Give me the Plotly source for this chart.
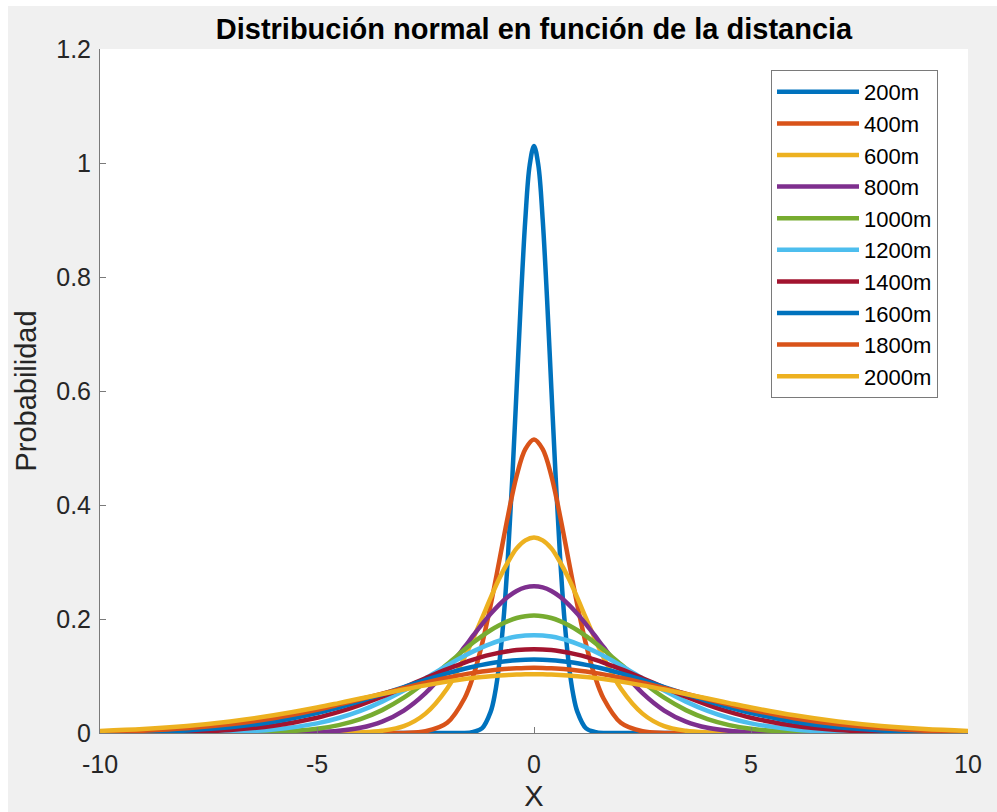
import plotly.graph_objects as go

# Sample positions (x >= 0); curves are symmetric about x = 0
x_fine = [0, 0.1, 0.2, 0.3, 0.4, 0.5, 0.6, 0.7, 0.8, 0.9, 1.0, 1.2, 1.4, 1.6,
          2.0, 3, 4, 5, 6, 7, 8, 9, 10]
x_half = [0, 0.2, 0.4, 0.6, 0.8, 1.0, 1.2, 1.4, 1.6, 2.0, 2.5, 3.0, 3.5,
          4.0, 4.5, 5.0, 6, 7, 8, 9, 10]

labels = ["200m", "400m", "600m", "800m", "1000m",
          "1200m", "1400m", "1600m", "1800m", "2000m"]

y_200 = [1.030, 0.996, 0.901, 0.763, 0.604, 0.447, 0.310, 0.201, 0.122, 0.069,
         0.037, 0.008, 0.002, 0.000, 0, 0, 0, 0, 0, 0, 0, 0, 0]
y_400 = [0.515, 0.498, 0.451, 0.381, 0.302, 0.224, 0.155, 0.100, 0.061, 0.018,
         0.003, 0.000, 0, 0, 0, 0, 0, 0, 0, 0, 0]
y_600 = [0.343, 0.338, 0.324, 0.300, 0.271, 0.237, 0.201, 0.166, 0.133, 0.078,
         0.034, 0.012, 0.004, 0.001, 0.000, 0, 0, 0, 0, 0, 0]
y_800 = [0.2575, 0.2554, 0.2491, 0.2389, 0.2253, 0.2090, 0.1907, 0.1711, 0.1509,
         0.1118, 0.0699, 0.0394, 0.0200, 0.0091, 0.0038, 0.0014, 0.0001, 0, 0, 0, 0]
y_1000 = [0.2060, 0.2049, 0.2017, 0.1963, 0.1891, 0.1803, 0.1700, 0.1586, 0.1463,
          0.1207, 0.0894, 0.0619, 0.0401, 0.0243, 0.0138, 0.0073, 0.0017, 0.0003,
          0, 0, 0]
y_1200 = [0.1717, 0.1711, 0.1692, 0.1661, 0.1618, 0.1565, 0.1502, 0.1432, 0.1354,
          0.1185, 0.0962, 0.0745, 0.0551, 0.0389, 0.0263, 0.0169, 0.0061, 0.0018,
          0.0005, 0.0001, 0]
y_1400 = [0.1471, 0.1467, 0.1455, 0.1435, 0.1408, 0.1374, 0.1334, 0.1287, 0.1236,
          0.1120, 0.0961, 0.0797, 0.0638, 0.0495, 0.0370, 0.0268, 0.0127, 0.0052,
          0.0019, 0.0006, 0.0002]
y_1600 = [0.1288, 0.1285, 0.1277, 0.1264, 0.1246, 0.1223, 0.1195, 0.1163, 0.1127,
          0.1045, 0.0930, 0.0805, 0.0680, 0.0559, 0.0448, 0.0350, 0.0197, 0.0100,
          0.0046, 0.0019, 0.0007]
y_1800 = [0.1144, 0.1142, 0.1136, 0.1127, 0.1114, 0.1098, 0.1078, 0.1055, 0.1029,
          0.0970, 0.0884, 0.0789, 0.0690, 0.0592, 0.0497, 0.0408, 0.0259, 0.0152,
          0.0082, 0.0041, 0.0019]
y_2000 = [0.1030, 0.1029, 0.1025, 0.1018, 0.1008, 0.0996, 0.0982, 0.0965, 0.0946,
          0.0901, 0.0836, 0.0763, 0.0684, 0.0604, 0.0524, 0.0447, 0.0310, 0.0201,
          0.0122, 0.0069, 0.0037]

series = [y_200, y_400, y_600, y_800, y_1000, y_1200, y_1400, y_1600, y_1800, y_2000]
x_grids = [x_fine] + [x_half] * 9
colors = ["#0072BD", "#D95319", "#EDB120", "#7E2F8E", "#77AC30",
          "#4DBEEE", "#A2142F", "#0072BD", "#D95319", "#EDB120"]

x_ticks = [-10, -5, 0, 5, 10]
x_ticktext = ["-10", "-5", "0", "5", "10"]
y_ticks = [0, 0.2, 0.4, 0.6, 0.8, 1, 1.2]
y_ticktext = ["0", "0.2", "0.4", "0.6", "0.8", "1", "1.2"]

FONT = "Liberation Sans, Arial, Helvetica, sans-serif"

fig = go.Figure()
for name, xg, ys, col in zip(labels, x_grids, series, colors):
    xs = [-v for v in reversed(xg[1:])] + xg
    yf = list(reversed(ys[1:])) + ys
    fig.add_trace(go.Scatter(x=xs, y=yf, mode="lines", name=name,
                             line=dict(color=col, width=4.5, shape="spline", smoothing=1)))

W, H = 997, 812
L, R, T, B = 100, 29, 49, 79
pw, ph = W - L - R, H - T - B

def px(p):
    return (p - L) / pw

def py(q):
    return (H - B - q) / ph

axis_col = "#7a7a7a"
fig.update_layout(
    width=W, height=H,
    margin=dict(l=L, r=R, t=T, b=B, autoexpand=False),
    paper_bgcolor="#f0f0f0",
    plot_bgcolor="white",
    font=dict(family=FONT, color="#262626", size=25),
    title=dict(text="<b>Distribución normal en función de la distancia</b>",
               x=0.5, xref="paper", y=1 - 29 / H, yref="container",
               yanchor="middle",
               font=dict(family=FONT, size=29, color="black")),
    xaxis=dict(range=[-10, 10], tickvals=x_ticks, ticktext=x_ticktext,
               showgrid=False, zeroline=False,
               showline=True, linecolor=axis_col, linewidth=1,
               ticks="inside", ticklen=6, tickcolor=axis_col,
               tickfont=dict(size=25), ticklabelstandoff=9,
               title=dict(text="X", font=dict(size=29), standoff=16)),
    yaxis=dict(range=[0, 1.2], tickvals=y_ticks, ticktext=y_ticktext,
               showgrid=False, zeroline=False,
               showline=True, linecolor=axis_col, linewidth=1,
               ticks="inside", ticklen=6, tickcolor=axis_col,
               tickfont=dict(size=25), ticklabelstandoff=3,
               title=dict(text="Probabilidad", font=dict(size=29), standoff=11)),
    legend=dict(x=px(771), y=py(70), xanchor="left", yanchor="top",
                bgcolor="white", bordercolor="#7a7a7a", borderwidth=1,
                font=dict(size=22, color="black"), itemwidth=82,
                tracegroupgap=0),
    shapes=[
        dict(type="rect", xref="paper", yref="paper", layer="below",
             x0=px(0), x1=px(8), y0=py(H), y1=py(0),
             fillcolor="white", line=dict(width=0)),
        dict(type="rect", xref="paper", yref="paper", layer="below",
             x0=px(0), x1=px(W), y0=py(6), y1=py(0),
             fillcolor="white", line=dict(width=0)),
    ],
)

fig.write_html("out.html")
